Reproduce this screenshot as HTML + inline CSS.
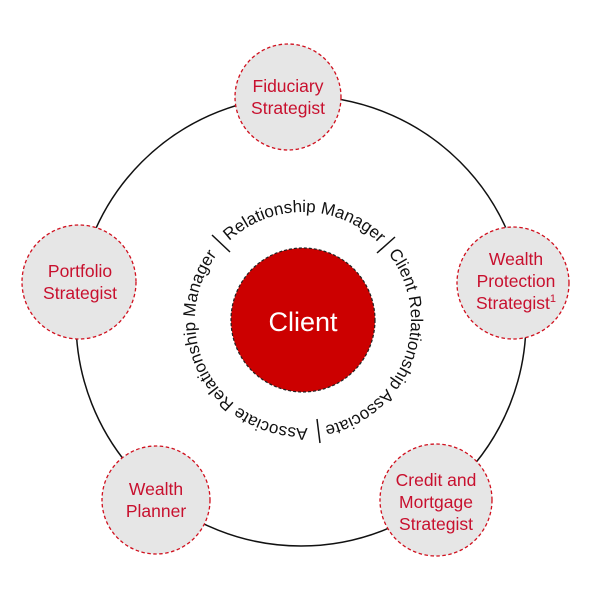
<!DOCTYPE html>
<html><head><meta charset="utf-8"><style>
html,body{margin:0;padding:0;background:#fff;}
svg{display:block;}
.n{fill:#e6e6e6;stroke:#d0101e;stroke-width:1.3;stroke-dasharray:3.5 2.5;}
.t{font-family:"Liberation Sans",sans-serif;font-size:17.5px;fill:#c8102e;text-anchor:middle;}
.r{font-family:"Liberation Sans",sans-serif;font-size:17px;fill:#111;}
</style></head><body>
<svg width="600" height="600" viewBox="0 0 600 600">
<circle cx="301" cy="321" r="225" fill="none" stroke="#111" stroke-width="1.5"/>
<circle class="n" cx="288" cy="97" r="53"/>
<circle class="n" cx="513" cy="283" r="56"/>
<circle class="n" cx="436" cy="500" r="56"/>
<circle class="n" cx="156" cy="500" r="54"/>
<circle class="n" cx="79" cy="282" r="57"/>
<text class="t" x="288" y="92">Fiduciary</text>
<text class="t" x="288" y="114">Strategist</text>
<text class="t" x="80" y="277">Portfolio</text>
<text class="t" x="80" y="299">Strategist</text>
<text class="t" x="516" y="265">Wealth</text>
<text class="t" x="516" y="287">Protection</text>
<text class="t" x="516" y="309">Strategist<tspan font-size="11" dy="-7">1</tspan></text>
<text class="t" x="436" y="486">Credit and</text>
<text class="t" x="436" y="508">Mortgage</text>
<text class="t" x="436" y="530">Strategist</text>
<text class="t" x="156" y="495">Wealth</text>
<text class="t" x="156" y="517">Planner</text>
<circle cx="303" cy="320" r="72" fill="#cc0000" stroke="#222" stroke-width="1.2" stroke-dasharray="3 2"/>
<text x="303" y="331" font-family="Liberation Sans,sans-serif" font-size="27" fill="#fff" text-anchor="middle">Client</text>
<defs><path id="p" d="M411,320 A108,108 0 1,1 195,320 A108,108 0 1,1 411,320 A108,108 0 1,1 195,320 A108,108 0 1,1 411,320"/></defs>
<text class="r"><textPath href="#p" startOffset="510" text-anchor="middle">Relationship Manager</textPath></text>
<text class="r"><textPath href="#p" startOffset="716" text-anchor="middle">Client Relationship Associate</textPath></text>
<text class="r"><textPath href="#p" startOffset="287" text-anchor="middle">Associate Relationship Manager</textPath></text>
<g stroke="#111" stroke-width="1.5">
<line x1="230" y1="252" x2="212" y2="235"/>
<line x1="377" y1="253" x2="395" y2="237"/>
<line x1="317" y1="419" x2="320" y2="443"/>
</g>
</svg>
</body></html>
